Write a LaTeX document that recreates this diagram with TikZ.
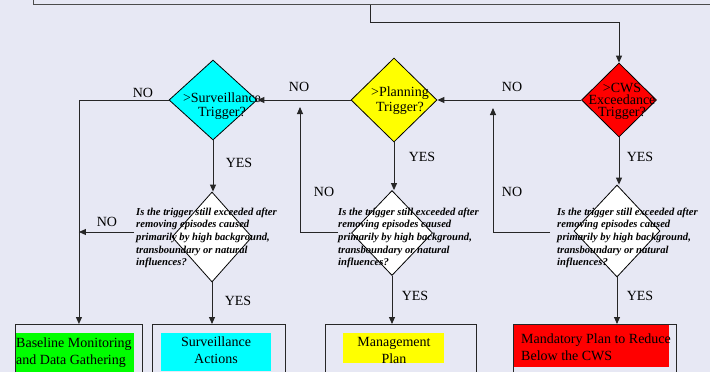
\documentclass[tikz,border=0pt]{standalone}
\usepackage{fontspec}
\setmainfont{Liberation Serif}
\usetikzlibrary{shapes.geometric,arrows.meta}
\definecolor{bgc}{RGB}{231,232,244}
\definecolor{cyn}{RGB}{0,255,255}
\definecolor{yel}{RGB}{255,255,0}
\definecolor{rd}{RGB}{255,0,0}
\definecolor{grn}{RGB}{0,255,0}
\begin{document}
\begin{tikzpicture}[x=1pt,y=-1pt,
  line/.style={draw=black!85, line width=0.9pt},
  arr/.style={line, -{Triangle[length=7pt,width=6pt]}},
  dia/.style={diamond, draw=black, line width=0.8pt, inner sep=0pt},
  lab/.style={font=\fontsize{14}{14}\selectfont, inner sep=0pt},
  qtext/.style={font=\fontsize{10.6}{12.7}\selectfont\bfseries\itshape, align=left, anchor=north west, inner sep=0pt},
  outbox/.style={draw=black!85, line width=0.9pt, anchor=north west, inner sep=0pt},
  fillbox/.style={anchor=north west, inner sep=0pt},
  btext/.style={font=\fontsize{14}{17}\selectfont, inner sep=0pt},
]
\fill[bgc] (0,0) rectangle (710,372);
\useasboundingbox (0,0) rectangle (710,372);
\clip (0,0) rectangle (710,372);

% top box
\node[outbox, draw=black!70, anchor=south west, minimum width=700pt, minimum height=40pt] (top) at (33,5) {};
\coordinate (c0) at (370,5);
\coordinate (c0b) at (370,22);

% trigger diamonds
\node[dia, fill=cyn, minimum width=88pt, minimum height=80pt] (c1) at (213,100) {};
\node[dia, fill=yel, minimum width=86pt, minimum height=84pt] (y1) at (394,100) {};
\node[dia, fill=rd, minimum width=75pt, minimum height=74pt] (r1) at (619,100) {};
\node[lab, align=center] (c1t) at (222,106) {>Surveillance\\Trigger?};
\node[lab, align=center, font=\fontsize{14}{15}\selectfont] (y1t) at (400,101) {>Planning\\Trigger?};
\node[lab, align=center, font=\fontsize{14}{12}\selectfont] (r1t) at (622,101) {>CWS\\Exceedance\\Trigger?};

\draw[arr] (c0) -- (c0b) -| (r1.north);

% bottom boxes
\node[fillbox, fill=grn, minimum width=118pt, minimum height=45pt] (b1f) at (16,333) {};
\node[fillbox, fill=cyn, minimum width=110pt, minimum height=38pt] (b2f) at (161,333) {};
\node[fillbox, fill=yel, minimum width=101pt, minimum height=30pt] (b3f) at (343,333) {};
\node[fillbox, fill=rd, minimum width=156pt, minimum height=43pt] (b4f) at (513,324) {};
\node[outbox, minimum width=127pt, minimum height=80pt] (b1) at (15,324) {};
\node[outbox, minimum width=133pt, minimum height=80pt] (b2) at (152,324) {};
\node[outbox, minimum width=151pt, minimum height=80pt] (b3) at (325,324) {};
\node[outbox, minimum width=163pt, minimum height=80pt] (b4) at (513,324) {};
\node[btext, align=left, anchor=north west] (b1t) at (16,338) {Baseline Monitoring\\and Data Gathering};
\node[btext, align=center] (b2t) at (216,350) {Surveillance\\Actions};
\node[btext, align=center] (b3t) at (394,350) {Management\\Plan};
\node[btext, align=left, anchor=north west] (b4t) at (521,334) {Mandatory Plan to Reduce\\Below the CWS};

% top connectors
\draw[arr] (r1.west) -- (y1.east);
\draw[arr] (y1.west) -- (c1.east);
\draw[arr] (c1.west) -| (b1.north);
\node[lab] (no1) at (143,93) {NO};
\node[lab] (no2) at (299,87) {NO};
\node[lab] (no3) at (512,87) {NO};

% second diamonds
\node[dia, fill=white, minimum width=80pt, minimum height=90pt] (q1) at (212,237) {};
\node[dia, fill=white, minimum width=81pt, minimum height=85pt] (q2) at (392,233) {};
\node[dia, fill=white, minimum width=86pt, minimum height=92pt] (q3) at (617,231) {};

\draw[arr] (c1.south) -- (c1.south |- q1.north);
\draw[arr] (y1.south) -- (y1.south |- q2.north);
\draw[arr] (r1.south) -- (r1.south |- q3.north);
\node[lab] (yes1) at (239,163) {YES};
\node[lab] (yes2) at (422,157) {YES};
\node[lab] (yes3) at (640,157) {YES};

% NO loops
\coordinate (n1s) at (134,232);
\draw[arr] (n1s) -- (n1s -| b1.north);
\coordinate (n2s) at (338,232);
\coordinate (n2e) at (300,107);
\draw[arr] (n2s) -| (n2e);
\coordinate (n3s) at (550,232);
\coordinate (n3e) at (493,108);
\draw[arr] (n3s) -| (n3e);
\node[lab] (no4) at (107,222) {NO};
\node[lab] (no5) at (324,192) {NO};
\node[lab] (no6) at (512,192) {NO};

\node[qtext] (q1t) at (136,207.5) {Is the trigger still exceeded after\\removing episodes caused\\primarily by high background,\\transboundary or natural\\influences?};
\node[qtext] (q2t) at (338,207.5) {Is the trigger still exceeded after\\removing episodes caused\\primarily by high background,\\transboundary or natural\\influences?};
\node[qtext] (q3t) at (557,207.5) {Is the trigger still exceeded after\\removing episodes caused\\primarily by high background,\\transboundary or natural\\influences?};

% bottom YES
\draw[arr] (q1.south) -- (q1.south |- b2.north);
\draw[arr] (q2.south) -- (q2.south |- b3.north);
\draw[arr] (q3.south) -- (q3.south |- b4.north);
\node[lab] (yes4) at (238,301) {YES};
\node[lab] (yes5) at (415,296) {YES};
\node[lab] (yes6) at (640,296) {YES};
\end{tikzpicture}
\end{document}
